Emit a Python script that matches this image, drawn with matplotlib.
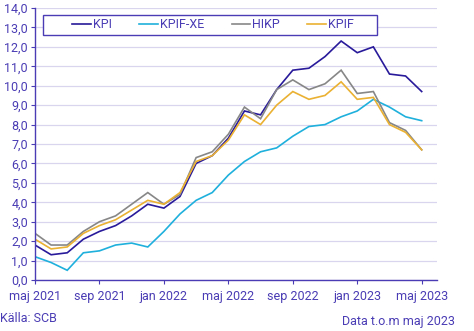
import matplotlib
matplotlib.use("Agg")
import matplotlib.pyplot as plt
from matplotlib.ticker import FuncFormatter, MultipleLocator
from matplotlib.patches import Rectangle

plt.rcParams['font.family'] = ['Roboto', 'DejaVu Sans']

months = ["maj 2021", "jun 2021", "jul 2021", "aug 2021", "sep 2021", "okt 2021", "nov 2021", "dec 2021",
          "jan 2022", "feb 2022", "mar 2022", "apr 2022", "maj 2022", "jun 2022", "jul 2022", "aug 2022",
          "sep 2022", "okt 2022", "nov 2022", "dec 2022", "jan 2023", "feb 2023", "mar 2023", "apr 2023",
          "maj 2023"]
kpi = [1.8, 1.3, 1.4, 2.1, 2.5, 2.8, 3.3, 3.9, 3.7, 4.3, 6.0, 6.4, 7.3, 8.7, 8.5, 9.8, 10.8, 10.9, 11.5,
       12.3, 11.7, 12.0, 10.6, 10.5, 9.7]
kpif_xe = [1.2, 0.9, 0.5, 1.4, 1.5, 1.8, 1.9, 1.7, 2.5, 3.4, 4.1, 4.5, 5.4, 6.1, 6.6, 6.8, 7.4, 7.9, 8.0,
           8.4, 8.7, 9.3, 8.9, 8.4, 8.2]
hikp = [2.4, 1.8, 1.8, 2.5, 3.0, 3.3, 3.9, 4.5, 3.9, 4.4, 6.3, 6.6, 7.5, 8.9, 8.3, 9.8, 10.3, 9.8, 10.1,
        10.8, 9.6, 9.7, 8.1, 7.7, 6.7]
kpif = [2.1, 1.6, 1.7, 2.4, 2.8, 3.1, 3.6, 4.1, 3.9, 4.5, 6.1, 6.4, 7.2, 8.5, 8.0, 9.0, 9.7, 9.3, 9.5,
        10.2, 9.3, 9.4, 8.0, 7.6, 6.7]
series_names = ["KPI", "KPIF-XE", "HIKP", "KPIF"]
tick_labels = ["maj 2021", "sep 2021", "jan 2022", "maj 2022", "sep 2022", "jan 2023", "maj 2023"]

colors = ["#281a9a", "#1fb0dc", "#878787", "#eab132"]
txt = "#4a3cb4"
grid_c = "#d9d5ef"

W, H = 474, 331
fig = plt.figure(figsize=(W/100, H/100), dpi=100)
ax = fig.add_axes([35/W, 1-280/H, (437-35)/W, (280-8)/H])

x = list(range(len(months)))
for vals, name, c in zip([kpi, kpif_xe, hikp, kpif], series_names, colors):
    ax.plot(x, vals, color=c, lw=1.2, label=name, solid_joinstyle='miter')

ax.set_ylim(0, 14)
ax.set_xlim(0, 24.95)
ax.yaxis.set_major_locator(MultipleLocator(1))
ax.yaxis.set_major_formatter(FuncFormatter(lambda v, p: f"{v:.1f}".replace(".", ",")))
tick_pos = [months.index(t) for t in tick_labels]
ax.set_xticks(tick_pos)
ax.set_xticklabels(tick_labels)

ax.grid(axis='y', color=grid_c, lw=0.9)
ax.set_axisbelow(True)
for s in ['top', 'right']:
    ax.spines[s].set_visible(False)
for s in ['left', 'bottom']:
    ax.spines[s].set_color(txt)
    ax.spines[s].set_linewidth(1.0)
ax.tick_params(colors=txt, labelsize=9, length=3, width=0.8, labelcolor=txt)
ax.tick_params(axis='x', pad=4)
ax.tick_params(axis='y', pad=2)

# legend box drawn separately
fig.patches.append(Rectangle((43/W, 1-35/H), (377-43)/W, 20/H, transform=fig.transFigure,
                             fill=True, facecolor='white', edgecolor=txt, lw=1.0, zorder=5))
leg = fig.legend(*ax.get_legend_handles_labels(), loc='center left', bbox_to_anchor=(72/W, 1-25/H),
                 ncol=4, frameon=False, fontsize=9, handlelength=1.5, handletextpad=0.15,
                 columnspacing=2.2, borderpad=0, borderaxespad=0)
leg.set_zorder(6)
for t in leg.get_texts():
    t.set_color(txt)

fig.text(0/W, 1-318/H, "Källa: SCB", color=txt, fontsize=9, va='center', ha='left')
fig.text(455/W, 1-322/H, "Data t.o.m maj 2023", color=txt, fontsize=9, va='center', ha='right')

fig.savefig("out.png", dpi=100)
